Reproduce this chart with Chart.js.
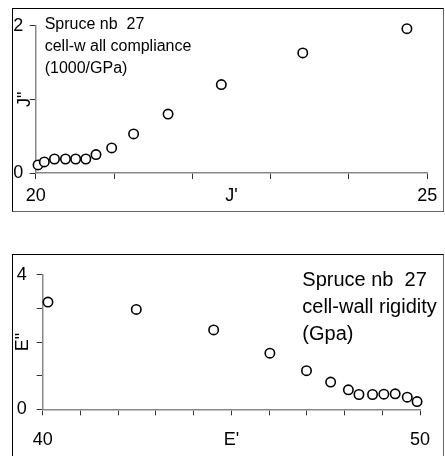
<!DOCTYPE html>
<html>
<head>
<meta charset="utf-8">
<script src="https://cdn.jsdelivr.net/npm/chart.js@4/dist/chart.umd.min.js"></script>
<style>
  html, body { margin: 0; padding: 0; background: #fff; overflow: hidden; width: 445px; height: 456px; }
  .wrap { position: absolute; }
  .frame { position: absolute; box-sizing: border-box; pointer-events: none;
           border-left: 1px solid #000; border-top: 1px solid #000;
           border-right: 1px solid #666; border-bottom: 1px solid #666; }
</style>
</head>
<body>
<div class="wrap" style="left:12px; top:8px;"><canvas id="c1" width="432" height="204"></canvas></div>
<div class="frame" style="left:12px; top:8px; width:432px; height:204px;"></div>
<div class="wrap" style="left:12px; top:254px;"><canvas id="c2" width="432" height="202"></canvas></div>
<div class="frame" style="left:12px; top:254px; width:432px; height:214px;"></div>
<script>
// ---- data ----
const jPrime   = [20.03, 20.11, 20.24, 20.38, 20.51, 20.64, 20.77, 20.97, 21.25, 21.69, 22.37, 23.41, 24.74];
const jDouble  = [0.11, 0.15, 0.19, 0.19, 0.19, 0.19, 0.25, 0.34, 0.53, 0.80, 1.20, 1.63, 1.96];
const ePrime   = [40.14, 42.48, 44.53, 46.02, 46.99, 47.63, 48.10, 48.38, 48.74, 49.04, 49.34, 49.66, 49.92];
const eDouble  = [3.19, 2.97, 2.36, 1.67, 1.15, 0.81, 0.58, 0.44, 0.44, 0.45, 0.46, 0.36, 0.23];

const topXLabels = [20, 25];
const topYLabels = [0, 2];
const botXLabels = [40, 50];
const botYLabels = [0, 4];

const topTitleX = "J'";
const topTitleY = 'J"';
const botTitleX = "E'";
const botTitleY = 'E"';

const topNote = ['Spruce nb  27', 'cell-w all compliance', '(1000/GPa)'];
const botNote = ['Spruce nb  27', 'cell-wall rigidity', '(Gpa)'];

// ---- rendering ----
const FONT = "'Liberation Sans', Arial, sans-serif";
Chart.defaults.font.family = FONT;
Chart.defaults.color = '#000';

const notePlugin = {
  id: 'note',
  afterDraw(chart, args, opts) {
    const ctx = chart.ctx;
    const a = chart.chartArea;
    ctx.save();
    ctx.font = opts.size + 'px ' + FONT;
    ctx.fillStyle = '#000';
    ctx.textBaseline = 'alphabetic';
    ctx.textAlign = 'left';
    opts.lines.forEach((t, i) => {
      ctx.fillText(t, a.left + opts.dx, a.top + opts.dy + i * opts.lineGap);
    });
    ctx.restore();
  }
};

function makeChart(id, xs, ys, cfg) {
  const pts = xs.map((x, i) => ({ x: x, y: ys[i] }));
  return new Chart(document.getElementById(id), {
    type: 'scatter',
    data: { datasets: [{
      data: pts,
      showLine: false,
      pointStyle: 'circle',
      pointRadius: 4.7,
      pointBorderWidth: 1.6,
      pointBackgroundColor: '#fff',
      pointBorderColor: '#000',
      clip: false
    }]},
    options: {
      responsive: false,
      animation: false,
      devicePixelRatio: 1,
      events: [],
      layout: { padding: cfg.pad },
      plugins: { legend: { display: false }, tooltip: { enabled: false }, note: cfg.note },
      scales: {
        x: {
          type: 'linear', min: cfg.xmin, max: cfg.xmax,
          afterFit: s => { s.height = cfg.xh; },
          border: { color: '#888', width: 1.5 },
          grid: { drawOnChartArea: false, drawTicks: true, tickLength: 6, tickColor: '#333' },
          ticks: { stepSize: 1, maxRotation: 0, autoSkip: false, padding: cfg.xpad,
                   font: { size: 18 }, color: '#000',
                   callback: v => cfg.xlabels.includes(v) ? String(v) : '' },
          title: { display: true, text: cfg.xtitle, font: { size: 18 }, color: '#000',
                   padding: { top: 0, bottom: cfg.xtpad } }
        },
        y: {
          type: 'linear', min: cfg.ymin, max: cfg.ymax,
          afterFit: s => { s.width = cfg.yw; },
          border: { color: '#888', width: 1.5 },
          grid: { drawOnChartArea: false, drawTicks: true, tickLength: 6, tickColor: '#333' },
          ticks: { stepSize: 1, padding: cfg.ypad, font: { size: 18 }, color: '#000',
                   callback: v => cfg.ylabels.includes(v) ? String(v) : '' },
          title: { display: true, text: cfg.ytitle, font: { size: 18 }, color: '#000',
                   padding: { top: cfg.ytpad, bottom: 0 } }
        }
      }
    },
    plugins: [notePlugin]
  });
}

makeChart('c1', jPrime, jDouble, {
  xmin: 20, xmax: 25, ymin: 0, ymax: 2,
  xlabels: topXLabels, ylabels: topYLabels,
  xtitle: topTitleX, ytitle: topTitleY,
  pad: { left: 0, top: 17.7, right: 9.7, bottom: 0 },
  xh: 39, yw: 23.7, xpad: 6.7, ypad: 6.4, xtpad: 4.7, ytpad: 2.5,
  note: { lines: topNote, size: 16, dx: 9, dy: 3.6, lineGap: 21.7 }
});

makeChart('c2', ePrime, eDouble, {
  xmin: 40, xmax: 50, ymin: 0, ymax: 4,
  xlabels: botXLabels, ylabels: botYLabels,
  xtitle: botTitleX, ytitle: botTitleY,
  pad: { left: 0, top: 16, right: 11.7, bottom: 0 },
  xh: 46.7, yw: 30.7, xpad: 13.9, ypad: 10, xtpad: 5.2, ytpad: 0,
  note: { lines: botNote, size: 20, dx: 259.6, dy: 10.7, lineGap: 27 }
});
</script>
</body>
</html>
